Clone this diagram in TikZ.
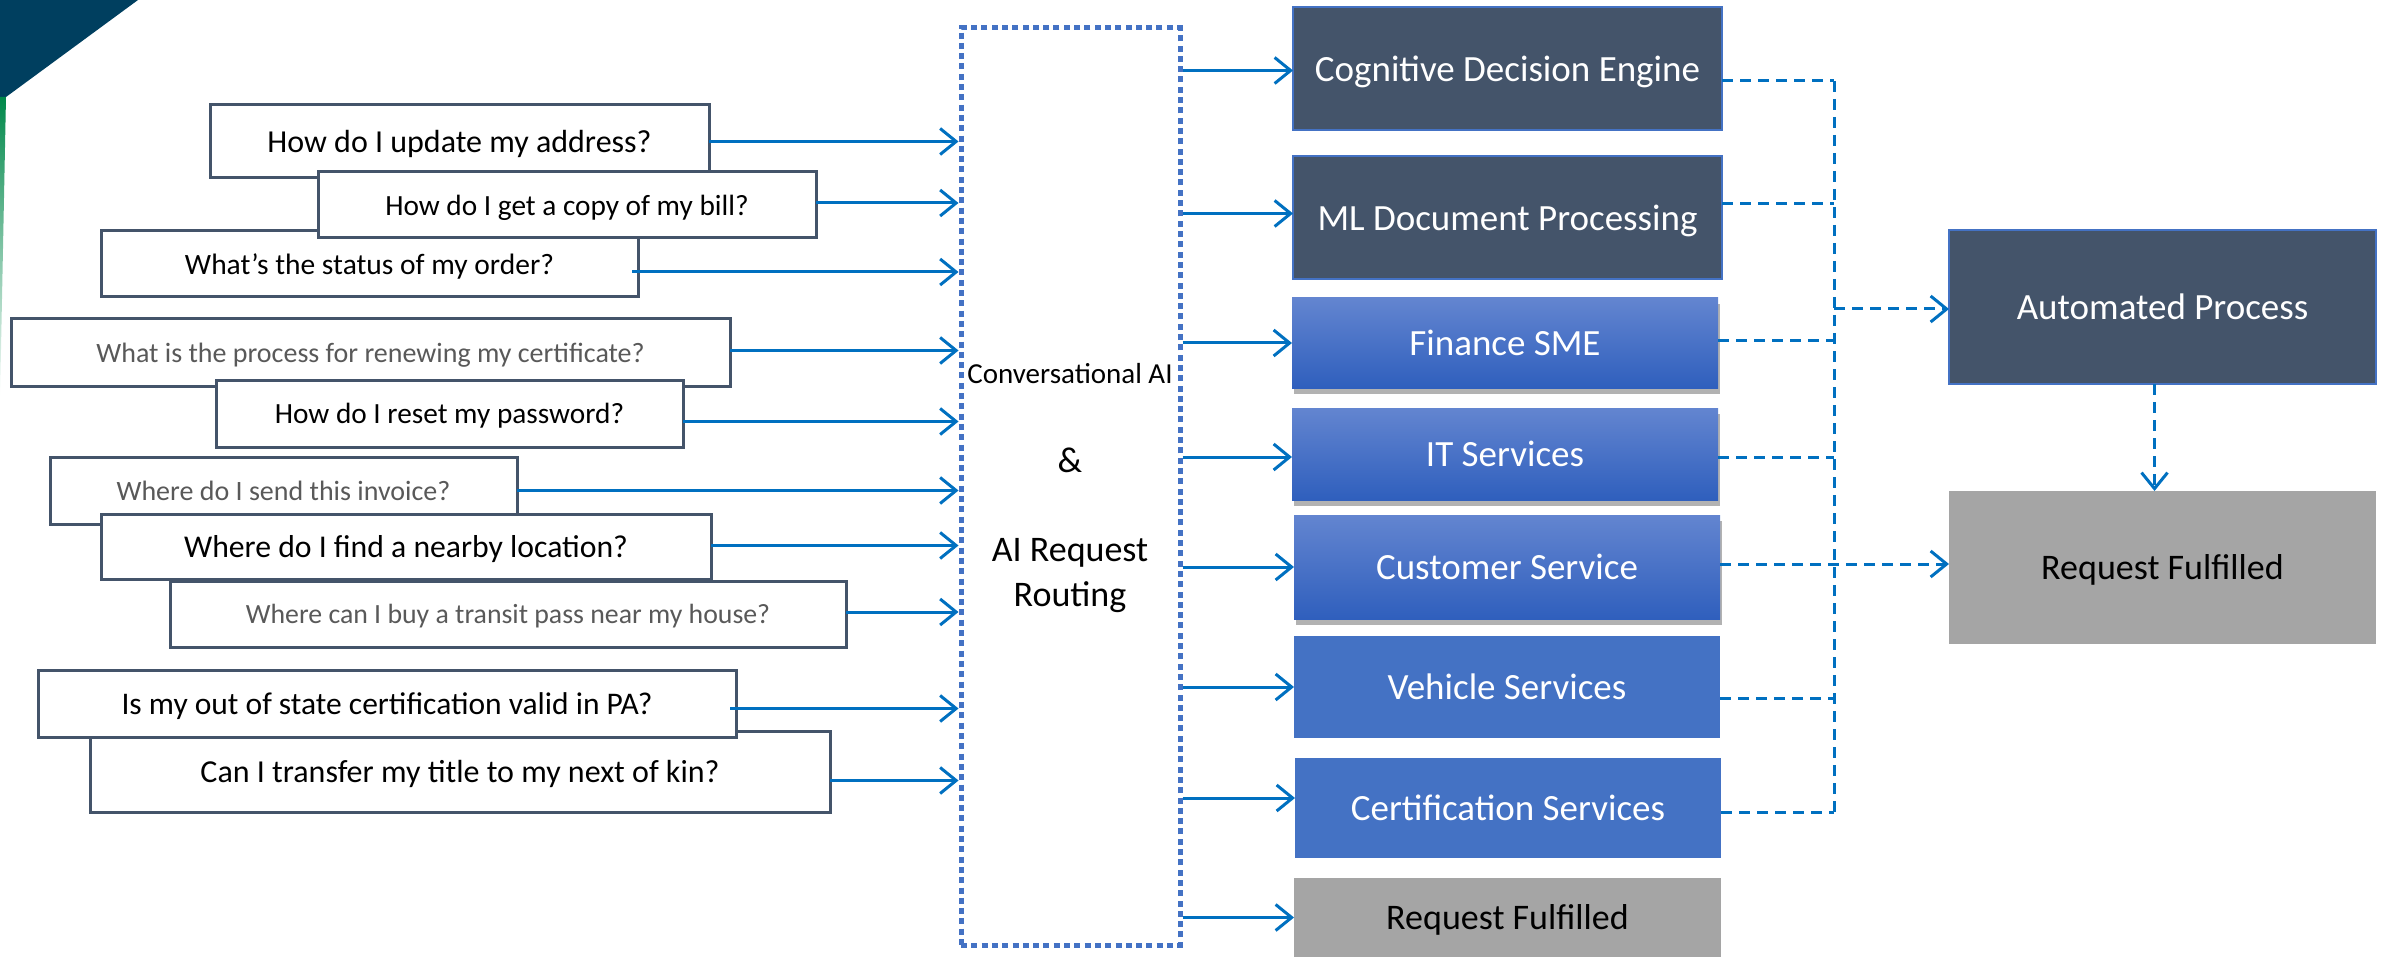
\documentclass[tikz,border=0pt]{standalone}
\usepackage{fontspec}
\setmainfont{Carlito}
\usetikzlibrary{arrows.meta,shadows}
\definecolor{qborder}{HTML}{44546A}
\definecolor{slate}{HTML}{44546A}
\definecolor{accent}{HTML}{4472C4}
\definecolor{arrowblue}{HTML}{0070C0}
\definecolor{qgray}{HTML}{595959}
\definecolor{boxgray}{HTML}{A5A5A5}
\definecolor{gradtop}{HTML}{6385D0}
\definecolor{gradbot}{HTML}{2F5FBD}
\definecolor{navy}{HTML}{003F5F}
\definecolor{leafgreen}{HTML}{00884A}
\newcommand{\fsz}[1]{\fontsize{#1}{#1}\selectfont}
\tikzset{
  fs/.style 2 args={font=\fsz{#1}, text height=#2pt, text depth=0pt},
  qbox/.style={draw=qborder, line width=3pt, fill=white, inner sep=0pt, outer sep=0pt, align=center},
  svcbox/.style={inner sep=0pt, outer sep=0pt, text=white, fs={37}{25.27}},
  darkbox/.style={svcbox, draw=accent, line width=1.5pt, fill=slate},
  gradbox/.style={svcbox, top color=gradtop, bottom color=gradbot,
     drop shadow={shadow xshift=2pt, shadow yshift=-6pt, opacity=0.3, fill=black}},
  flatbox/.style={svcbox, fill=accent},
  graybox/.style={svcbox, fill=boxgray, text=black, fs={36}{24.59}},
  solidarrow/.style={draw=arrowblue, line width=3pt, -{Straight Barb[length=16pt,width=26pt]}},
  dashline/.style={draw=arrowblue, line width=3pt, dash pattern=on 11pt off 7pt},
  dasharrow/.style={dashline, -{Straight Barb[length=16pt,width=26pt]}},
}
\begin{document}
\begin{tikzpicture}[x=1pt,y=-1pt]
\useasboundingbox (0,0) rectangle (2384,957);
% corner decoration
\fill[navy] (0,0) -- (138,0) -- (6,97) -- (0,100) -- cycle;
\shade[top color=leafgreen, bottom color=white] (0,97) -- (6,97) -- (0,400) -- cycle;

% question boxes
\node[qbox, minimum width=499pt, minimum height=73pt, fs={32}{21.86}] (q1) at (459.5,141.5) {How do I update my address?};
\node[qbox, minimum width=537pt, minimum height=66pt, fs={29.5}{20.15}] (q3) at (369.5,264) {What’s the status of my order?};
\node[qbox, minimum width=498pt, minimum height=66pt, fs={29.3}{20.01}] (q2) at (567,205) {How do I get a copy of my bill?};
\node[qbox, minimum width=719pt, minimum height=67pt, fs={28}{19.12}, text=qgray] (q4) at (370.5,352.5) {What is the process for renewing my certificate?};
\node[qbox, minimum width=467pt, minimum height=67pt, fs={29.3}{20.01}] (q5) at (449.5,413.5) {How do I reset my password?};
\node[qbox, minimum width=467pt, minimum height=67pt, fs={28}{19.12}, text=qgray] (q6) at (283.5,490.5) {Where do I send this invoice?};
\node[qbox, minimum width=610pt, minimum height=65pt, fs={31.7}{21.65}] (q7) at (406,546.5) {Where do I find a nearby location?};
\node[qbox, minimum width=676pt, minimum height=66pt, fs={27.8}{18.99}, text=qgray] (q8) at (508,614) {Where can I buy a transit pass near my house?};
\node[qbox, minimum width=740pt, minimum height=81pt, fs={32}{21.86}] (q10) at (460,771.5) {Can I transfer my title to my next of kin?};
\node[qbox, minimum width=698pt, minimum height=67pt, fs={31.5}{21.51}] (q9) at (387,703.5) {Is my out of state certification valid in PA?};

% routing box
\node[draw=accent, line width=5pt, dash pattern=on 6pt off 4.3pt, minimum width=219pt, minimum height=917pt, inner sep=0pt] (ai) at (1070.5,486.5) {};
\node[fs={29}{19.81}, inner sep=0pt] (conv) at (1070,374) {Conversational AI};
\node[fs={36}{24.59}, inner sep=0pt] (amp) at (1070,460) {\&};
\node[font=\fontsize{36}{45}\selectfont, align=center, inner sep=0pt] (req) at (1070,576) {AI Request\\Routing};

% service boxes
\node[darkbox, minimum width=429pt, minimum height=123pt] (cog) at (1507.5,68.5) {Cognitive Decision Engine};
\node[darkbox, minimum width=429pt, minimum height=123pt] (ml) at (1507.5,217.5) {ML Document Processing};
\node[gradbox, minimum width=426pt, minimum height=90pt] (fin) at (1505,343) {Finance SME};
\node[gradbox, minimum width=426pt, minimum height=92pt] (it) at (1505,454) {IT Services};
\node[gradbox, minimum width=426pt, minimum height=104pt] (cs) at (1507,567) {Customer Service};
\node[flatbox, minimum width=426pt, minimum height=102pt] (veh) at (1507,687) {Vehicle Services};
\node[flatbox, minimum width=426pt, minimum height=100pt] (cert) at (1508,808) {Certification Services};
\node[graybox, minimum width=427pt, minimum height=79pt] (rf1) at (1507.5,917.5) {Request Fulfilled};

% outcome boxes
\node[darkbox, minimum width=427pt, minimum height=154pt] (ap) at (2162.5,307) {Automated Process};
\node[graybox, minimum width=427pt, minimum height=153pt] (rf2) at (2162.5,567.5) {Request Fulfilled};

% question arrows
\draw[solidarrow] (q1.east) -- (q1.east -| ai.west);
\draw[solidarrow] ([yshift=2pt]q2.east) -- ([yshift=2pt]q2.east -| ai.west);
\draw[solidarrow] ([xshift=-6pt,yshift=-8pt]q3.east) -- ([yshift=-8pt]q3.east -| ai.west);
\draw[solidarrow] ([yshift=2pt]q4.east) -- ([yshift=2pt]q4.east -| ai.west);
\draw[solidarrow] ([yshift=-8pt]q5.east) -- ([yshift=-8pt]q5.east -| ai.west);
\draw[solidarrow] (q6.east) -- (q6.east -| ai.west);
\draw[solidarrow] ([yshift=1pt]q7.east) -- ([yshift=1pt]q7.east -| ai.west);
\draw[solidarrow] ([yshift=2pt]q8.east) -- ([yshift=2pt]q8.east -| ai.west);
\draw[solidarrow] ([xshift=-6pt,yshift=-5pt]q9.east) -- ([yshift=-5pt]q9.east -| ai.west);
\draw[solidarrow] ([yshift=-9pt]q10.east) -- ([yshift=-9pt]q10.east -| ai.west);

% routing arrows
\draw[solidarrow] ([yshift=-2pt]cog.west -| ai.east) -- ([yshift=-2pt]cog.west);
\draw[solidarrow] ([yshift=4pt]ml.west -| ai.east) -- ([yshift=4pt]ml.west);
\draw[solidarrow] (fin.west -| ai.east) -- (fin.west);
\draw[solidarrow] ([yshift=-3pt]it.west -| ai.east) -- ([yshift=-3pt]it.west);
\draw[solidarrow] (cs.west -| ai.east) -- (cs.west);
\draw[solidarrow] (veh.west -| ai.east) -- (veh.west);
\draw[solidarrow] ([yshift=10pt]cert.west -| ai.east) -- ([yshift=10pt]cert.west);
\draw[solidarrow] (rf1.west -| ai.east) -- (rf1.west);

% dashed bus
\coordinate (bustop) at (1834,81);
\coordinate (busbot) at (1834,812);
\draw[dashline] (bustop) -- (busbot);
\draw[dashline] ([yshift=-12pt]cog.east) -- ([yshift=-12pt]cog.east -| bustop);
\draw[dashline] ([yshift=14pt]ml.east) -- ([yshift=14pt]ml.east -| bustop);
\draw[dashline] ([yshift=2pt]fin.east) -- ([yshift=2pt]fin.east -| bustop);
\draw[dashline] ([yshift=-3pt]it.east) -- ([yshift=-3pt]it.east -| bustop);
\draw[dashline] ([yshift=-11pt]veh.east) -- ([yshift=-11pt]veh.east -| bustop);
\draw[dashline] ([yshift=-4pt]cert.east) -- (busbot);
\draw[dasharrow] ([yshift=-2pt]ap.west -| bustop) -- ([yshift=-2pt]ap.west);
\draw[dasharrow] ([yshift=3pt]cs.east) -- ([yshift=3pt]cs.east -| rf2.west);
\draw[dasharrow] ([xshift=-8pt]ap.south) -- ([xshift=-8pt]rf2.north);
\end{tikzpicture}
\end{document}
